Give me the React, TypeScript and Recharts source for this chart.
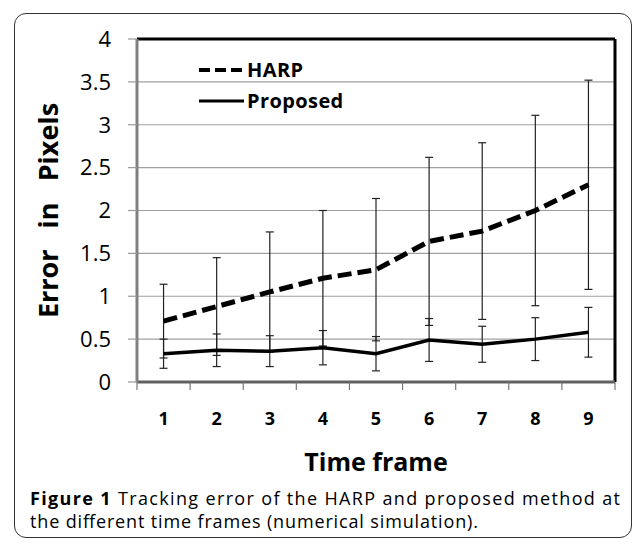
import React from 'react';
import {
  ComposedChart,
  Line,
  XAxis,
  YAxis,
  CartesianGrid,
  ErrorBar,
  Legend,
  ReferenceLine,
  Label
} from 'recharts';

const frames = [1, 2, 3, 4, 5, 6, 7, 8, 9];
const harpMean = [0.71, 0.88, 1.05, 1.21, 1.31, 1.64, 1.76, 2.0, 2.3];
const harpErr = [0.43, 0.57, 0.7, 0.79, 0.83, 0.98, 1.03, 1.11, 1.22];
const proposedMean = [0.33, 0.37, 0.36, 0.4, 0.33, 0.49, 0.44, 0.5, 0.58];
const proposedErr = [0.17, 0.19, 0.18, 0.2, 0.2, 0.25, 0.21, 0.25, 0.29];
const yTicks = [0, 0.5, 1, 1.5, 2, 2.5, 3, 3.5, 4];

const data = frames.map((f, i) => ({
  frame: f,
  harp: harpMean[i],
  harpErr: harpErr[i],
  proposed: proposedMean[i],
  proposedErr: proposedErr[i]
}));

// category labels at the frames, tick marks half way between them
const xTicks = [frames[0] - 0.5, ...frames.flatMap((f) => [f, f + 0.5])];

const FONT = '"Open Sans", sans-serif';
const TICK_SIZE = 8;

const FrameTick = (props: any) => {
  const { x, y, payload } = props;
  const v = payload.value;
  if (!Number.isInteger(v)) {
    return <line x1={x} x2={x} y1={y - TICK_SIZE} y2={y} stroke="#777" strokeWidth={1.2} />;
  }
  return (
    <text x={x} y={y + 35} textAnchor="middle" fontFamily={FONT} fontWeight={700} fontSize={18} fill="#000">
      {v}
    </text>
  );
};

const LegendContent = (props: any) => {
  const { payload = [] } = props;
  return (
    <div style={{ display: 'flex', flexDirection: 'column' }}>
      {payload.map((e: any) => (
        <div key={e.value} style={{ display: 'flex', alignItems: 'center', height: 31 }}>
          <svg width={46} height={10}>
            <line
              x1={0}
              y1={5}
              x2={45}
              y2={5}
              stroke="#000"
              strokeWidth={e.dataKey === 'harp' ? 4 : 3}
              strokeDasharray={e.dataKey === 'harp' ? '11 5' : undefined}
            />
          </svg>
          <span style={{ fontFamily: FONT, fontWeight: 700, fontSize: 20, marginLeft: 2, letterSpacing: 0.4 }}>
            {e.value}
          </span>
        </div>
      ))}
    </div>
  );
};

export default function App() {
  return (
    <div style={{ position: 'absolute', left: 0, top: 0, width: 633, height: 545, background: '#fff', overflow: 'hidden' }}>
      <div
        style={{
          position: 'absolute',
          left: 14,
          top: 13,
          width: 616,
          height: 523,
          border: '1.5px solid #333',
          borderRadius: 12
        }}
      />
      <div style={{ position: 'absolute', left: 0, top: 0 }}>
        <ComposedChart width={633} height={545} data={data} margin={{ top: 39, right: 18, bottom: 0, left: 0 }}>
          <CartesianGrid vertical={false} stroke="#a0a0a0" strokeWidth={1.2} />
          <XAxis
            dataKey="frame"
            type="number"
            domain={[0.5, 9.5]}
            ticks={xTicks}
            interval={0}
            height={163}
            tickSize={TICK_SIZE}
            tickMargin={0}
            tickLine={false}
            tick={<FrameTick />}
            axisLine={{ stroke: '#606060', strokeWidth: 3 }}
          >
            <Label
              content={({ viewBox }: any) => (
                <text
                  x={viewBox.x + viewBox.width / 2}
                  y={viewBox.y + 89}
                  textAnchor="middle"
                  fontFamily={FONT}
                  fontWeight={700}
                  fontSize={25}
                  fill="#000"
                >
                  Time frame
                </text>
              )}
            />
          </XAxis>
          <YAxis
            type="number"
            domain={[0, 4]}
            ticks={yTicks}
            width={137}
            tickSize={9}
            tickMargin={17}
            tick={{ fontFamily: FONT, fontSize: 22, fill: '#000' }}
            tickLine={{ stroke: '#999', strokeWidth: 1.2 }}
            axisLine={{ stroke: '#808080', strokeWidth: 3 }}
          >
            <Label
              content={({ viewBox }: any) => {
                const cx = viewBox.x + 47;
                const cy = viewBox.y + viewBox.height / 2;
                return (
                  <text
                    x={cx}
                    y={cy}
                    transform={`rotate(-90 ${cx} ${cy})`}
                    textAnchor="middle"
                    dominantBaseline="central"
                    fontFamily={FONT}
                    fontWeight={700}
                    fontSize={27}
                    fill="#000"
                    style={{ whiteSpace: 'pre' }}
                  >
                    {'Error   in   Pixels'}
                  </text>
                );
              }}
            />
          </YAxis>
          <ReferenceLine y={4} stroke="#000" strokeWidth={3} />
          <ReferenceLine x={9.5} stroke="#000" strokeWidth={3} />
          <Legend
            layout="vertical"
            align="center"
            verticalAlign="middle"
            wrapperStyle={{ top: 54, left: 199, width: 'auto', height: 'auto' }}
            content={<LegendContent />}
          />
          <Line
            dataKey="harp"
            name="HARP"
            stroke="#000"
            strokeWidth={5}
            strokeDasharray="14 6"
            dot={false}
            activeDot={false}
            isAnimationActive={false}
          >
            <ErrorBar dataKey="harpErr" width={4} stroke="#222" strokeWidth={1.2} />
          </Line>
          <Line
            dataKey="proposed"
            name="Proposed"
            stroke="#000"
            strokeWidth={3.5}
            dot={false}
            activeDot={false}
            isAnimationActive={false}
          >
            <ErrorBar dataKey="proposedErr" width={4} stroke="#222" strokeWidth={1.2} />
          </Line>
        </ComposedChart>
      </div>
      <svg width={633} height={545} style={{ position: 'absolute', left: 0, top: 0, pointerEvents: 'none' }}>
        <text x={30} y={505} fontFamily={FONT} fontSize={18} fill="#000" textLength={590} lengthAdjust="spacing">
          <tspan fontWeight={700}>Figure 1</tspan> Tracking error of the HARP and proposed method at
        </text>
        <text x={30} y={528} fontFamily={FONT} fontSize={18} fill="#000" textLength={448} lengthAdjust="spacing">
          the different time frames (numerical simulation).
        </text>
      </svg>
    </div>
  );
}
